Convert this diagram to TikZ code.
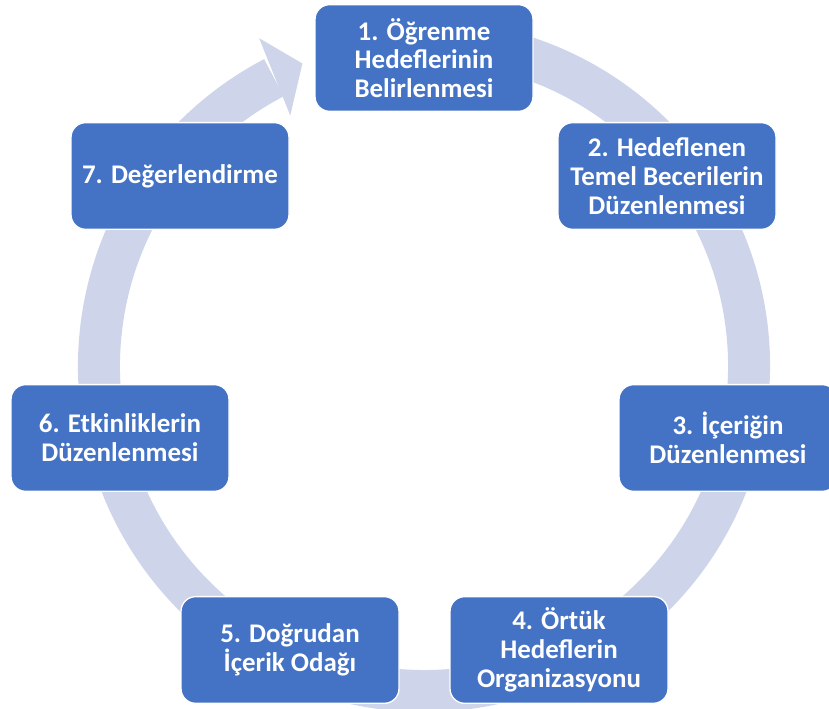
\documentclass[tikz,border=0pt]{standalone}
\usepackage{fontspec}
\setmainfont{Carlito}
\usetikzlibrary{positioning}
\definecolor{boxblue}{HTML}{4472C4}
\definecolor{ringblue}{HTML}{CED4EA}

\begin{document}
\begin{tikzpicture}[x=0.75pt, y=0.75pt]

% Define the styles
\tikzstyle{stage}=[rectangle, rounded corners=11pt, fill=boxblue, draw=white, line width=1pt, text=white, minimum width=163.5pt, minimum height=80pt, align=center, font=\fontsize{20.2}{21.6}\selectfont\bfseries]
\tikzstyle{ring}=[draw=ringblue, line width=31.5pt, line cap=butt]

\useasboundingbox (0,0) rectangle (829,709);
\coordinate (center) at (424,343);

% Add the cycle arrow
\draw[ring] ([shift={(80:325)}]center) arc[start angle=80, end angle=-242.5, radius=325];
\fill[ringblue, shift={(center)}] (111.9:326) -- (116.7:367) -- (118.1:284) -- cycle;

% Define the nodes
\node[stage] (learn) at (424,651) {1. Öğrenme\\Hedeflerinin\\Belirlenmesi};
\node[stage] (skills) at (667,533) {2. Hedeflenen\\Temel Becerilerin\\Düzenlenmesi};
\node[stage] (content) at (728,271) {3. İçeriğin\\Düzenlenmesi};
\node[stage] (hidden) at (559,59) {4. Örtük\\Hedeflerin\\Organizasyonu};
\node[stage] (focus) at (290,59) {5. Doğrudan\\İçerik Odağı};
\node[stage] (activity) at (120,271) {6. Etkinliklerin\\Düzenlenmesi};
\node[stage] (assess) at (180,533) {7. Değerlendirme};

\end{tikzpicture}
\end{document}
